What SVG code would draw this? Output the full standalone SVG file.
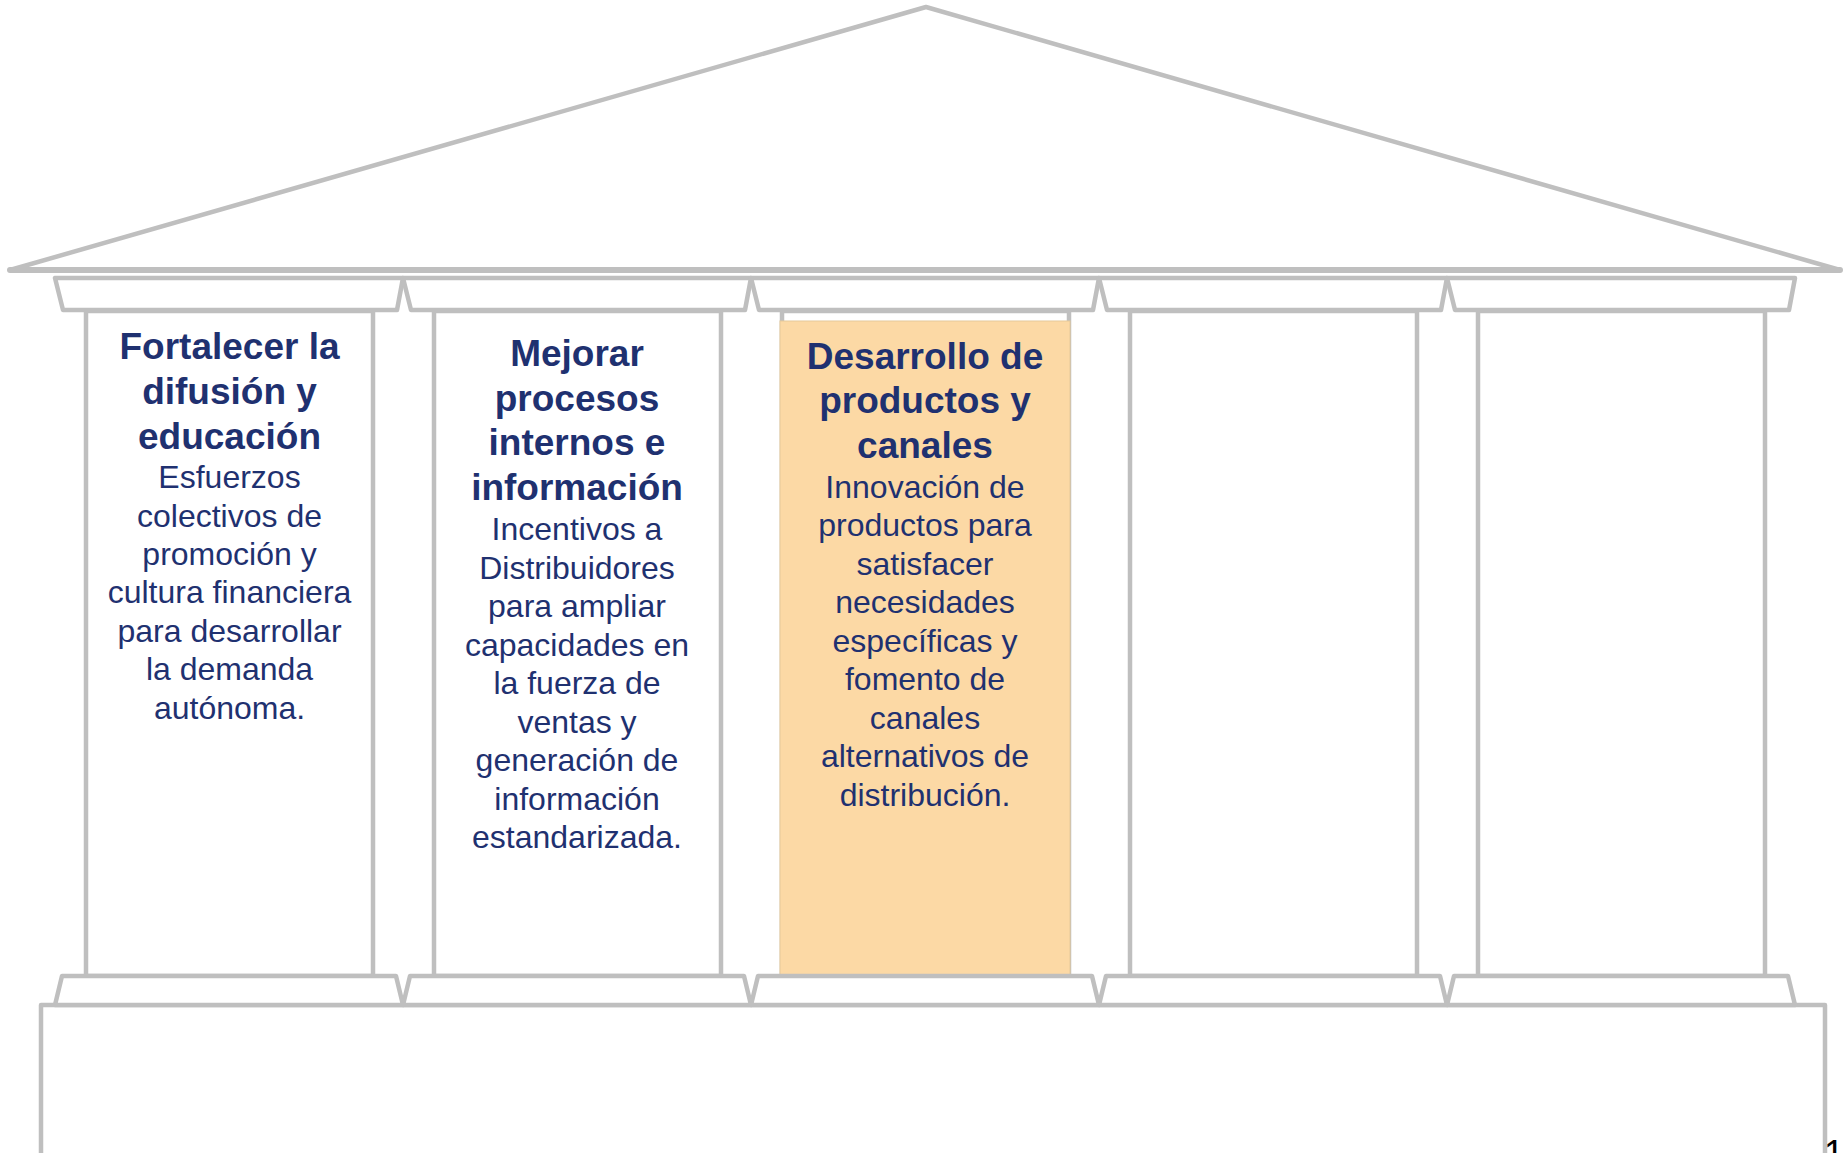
<svg xmlns="http://www.w3.org/2000/svg" width="1845" height="1153" viewBox="0 0 1845 1153">
  <style>
    .line { fill: #FFFFFF; stroke: #BFBFBF; stroke-width: 4.5; stroke-linejoin: round; }
    .title { font-family: "Liberation Sans", Arial, sans-serif; font-weight: bold; font-size: 37px; fill: #1F3170; text-anchor: middle; }
    .body { font-family: "Liberation Sans", Arial, sans-serif; font-size: 32px; fill: #1F3170; text-anchor: middle; }
    .page { font-family: "Liberation Sans", Arial, sans-serif; font-size: 36px; fill: #000000; }
  </style>
  <rect width="1845" height="1153" fill="#FFFFFF"/>

  <!-- pediment -->
  <g id="roof">
    <polygon class="line" points="10,270 926,7 1840,270"/>
    <line x1="10" y1="270" x2="1840" y2="270" stroke="#BFBFBF" stroke-width="6" stroke-linecap="round"/>
  </g>

  <!-- base block (runs past the bottom edge) -->
  <g id="base">
    <rect class="line" x="41" y="1005" width="1784" height="200"/>
  </g>

  <!-- column shafts -->
  <g id="column-1"><rect class="line" x="86" y="311" width="287" height="665"/></g>
  <g id="column-2"><rect class="line" x="434" y="311" width="287" height="665"/></g>
  <g id="column-3">
    <rect class="line" x="782" y="311" width="287" height="665"/>
    <rect x="780" y="321" width="290" height="654" fill="#FCD9A5" stroke="#E6C999" stroke-width="1"/>
  </g>
  <g id="column-4"><rect class="line" x="1130" y="311" width="287" height="665"/></g>
  <g id="column-5"><rect class="line" x="1478" y="311" width="287" height="665"/></g>

  <!-- upper capitals -->
  <g id="capitals-top">
    <polygon class="line" points="55,278 403,278 397,310 63,310"/>
    <polygon class="line" points="403,278 751,278 745,310 411,310"/>
    <polygon class="line" points="751,278 1099,278 1093,310 759,310"/>
    <polygon class="line" points="1099,278 1447,278 1441,310 1107,310"/>
    <polygon class="line" points="1447,278 1795,278 1789,310 1455,310"/>
  </g>

  <!-- lower capitals -->
  <g id="capitals-bottom">
    <polygon class="line" points="62,976 396,976 403,1005 55,1005"/>
    <polygon class="line" points="410,976 744,976 751,1005 403,1005"/>
    <polygon class="line" points="758,976 1092,976 1099,1005 751,1005"/>
    <polygon class="line" points="1106,976 1440,976 1447,1005 1099,1005"/>
    <polygon class="line" points="1454,976 1788,976 1795,1005 1447,1005"/>
  </g>

  <!-- pillar texts -->
  <g id="text-1">
    <text class="title" x="229.5" y="359">Fortalecer la</text>
    <text class="title" x="229.5" y="404">difusión y</text>
    <text class="title" x="229.5" y="449">educación</text>
    <text class="body" x="229.5" y="488">Esfuerzos</text>
    <text class="body" x="229.5" y="526.5">colectivos de</text>
    <text class="body" x="229.5" y="565">promoción y</text>
    <text class="body" x="229.5" y="603">cultura financiera</text>
    <text class="body" x="229.5" y="641.5">para desarrollar</text>
    <text class="body" x="229.5" y="680">la demanda</text>
    <text class="body" x="229.5" y="718.5">autónoma.</text>
  </g>

  <g id="text-2">
    <text class="title" x="577" y="366">Mejorar</text>
    <text class="title" x="577" y="410.5">procesos</text>
    <text class="title" x="577" y="455">internos e</text>
    <text class="title" x="577" y="499.5">información</text>
    <text class="body" x="577" y="540">Incentivos a</text>
    <text class="body" x="577" y="578.5">Distribuidores</text>
    <text class="body" x="577" y="617">para ampliar</text>
    <text class="body" x="577" y="655.5">capacidades en</text>
    <text class="body" x="577" y="694">la fuerza de</text>
    <text class="body" x="577" y="732.5">ventas y</text>
    <text class="body" x="577" y="771">generación de</text>
    <text class="body" x="577" y="809.5">información</text>
    <text class="body" x="577" y="848">estandarizada.</text>
  </g>

  <g id="text-3">
    <text class="title" x="925" y="368.5">Desarrollo de</text>
    <text class="title" x="925" y="413">productos y</text>
    <text class="title" x="925" y="457.5">canales</text>
    <text class="body" x="925" y="497.5">Innovación de</text>
    <text class="body" x="925" y="536">productos para</text>
    <text class="body" x="925" y="574.5">satisfacer</text>
    <text class="body" x="925" y="613">necesidades</text>
    <text class="body" x="925" y="651.5">específicas y</text>
    <text class="body" x="925" y="690">fomento de</text>
    <text class="body" x="925" y="728.5">canales</text>
    <text class="body" x="925" y="767">alternativos de</text>
    <text class="body" x="925" y="805.5">distribución.</text>
  </g>

  <!-- page number -->
  <text class="page" x="1824" y="1166">1</text>
</svg>
